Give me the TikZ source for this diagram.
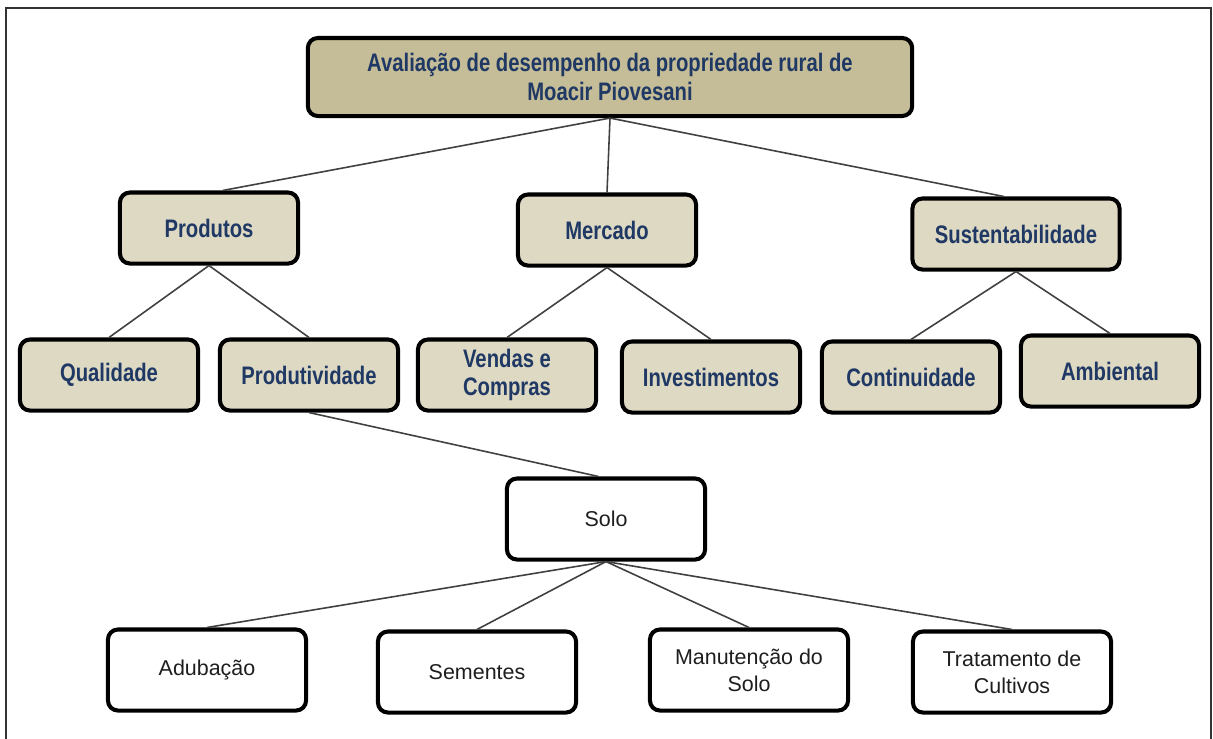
\documentclass[tikz,border=0pt]{standalone}
\usepackage{fontspec}
\setmainfont{Liberation Sans}
\newfontfamily\narrowfont[FakeStretch=0.8]{Liberation Sans}
\begin{document}
\definecolor{headfill}{RGB}{196,189,151}
\definecolor{catfill}{RGB}{221,217,195}
\definecolor{navytext}{RGB}{31,56,100}
\definecolor{leaftext}{RGB}{30,30,30}
\begin{tikzpicture}[x=0.01cm,y=-0.01cm,
  catbox/.style={draw=black, line width=1.15pt, rounded corners=0.1cm,
    fill=catfill, text=navytext, align=center, inner sep=0pt,
    minimum width=1.78cm, minimum height=0.71cm,
    font=\narrowfont\bfseries\fontsize{7.2}{8}\selectfont},
  headbox/.style={catbox, fill=headfill},
  leafbox/.style={draw=black, line width=1.15pt, rounded corners=0.1cm,
    fill=white, text=leaftext, align=center, inner sep=0pt,
    minimum width=1.98cm, minimum height=0.81cm,
    font=\fontsize{6.1}{7.7}\selectfont},
  link/.style={draw=black!75, line width=0.45pt}]
  \useasboundingbox (0,0) rectangle (1213,738);
  % outer frame (its lower edge runs below the page)
  \draw[line width=0.6pt, black!80] (6,760) -- (6,8) -- (1211,8) -- (1211,760);

  % root
  \node[headbox, minimum width=6.04cm, minimum height=0.78cm] (root) at (610,77)
    {Avaliação de desempenho da propriedade rural de\\Moacir Piovesani};

  % first level
  \node[catbox] (prod) at (209,228) {Produtos};
  \node[catbox] (merc) at (607,230) {Mercado};
  \node[catbox, minimum width=2.07cm] (sust) at (1016,234) {Sustentabilidade};

  % second level
  \node[catbox] (qual) at (109,375) {Qualidade};
  \node[catbox] (prdv) at (309,375) {Produtividade};
  \node[catbox] (vend) at (507,375) {Vendas e\\Compras};
  \node[catbox] (inv) at (711,377) {Investimentos};
  \node[catbox] (cont) at (911,377) {Continuidade};
  \node[catbox] (amb) at (1110,371) {Ambiental};

  % soil branch
  \node[leafbox] (solo) at (606,519) {Solo};
  \node[leafbox] (adub) at (207,670) {Adubação};
  \node[leafbox] (seme) at (477,672) {Sementes};
  \node[leafbox] (manu) at (749,670) {Manutenção do\\Solo};
  \node[leafbox] (trat) at (1012,672) {Tratamento de\\Cultivos};

  % connectors
  \draw[link] (root.south) -- (prod.70);
  \draw[link] (root.south) -- (merc.north);
  \draw[link] (root.south) -- (sust.108);
  \draw[link] (prod.south) -- (qual.north);
  \draw[link] (prod.south) -- (prdv.north);
  \draw[link] (merc.south) -- (vend.north);
  \draw[link] (merc.south) -- (inv.north);
  \draw[link] (sust.south) -- (cont.north);
  \draw[link] (sust.south) -- (amb.north);
  \draw[link] (prdv.south) -- (solo.100);
  \draw[link] (solo.south) -- (adub.north);
  \draw[link] (solo.south) -- (seme.north);
  \draw[link] (solo.south) -- (manu.north);
  \draw[link] (solo.south) -- (trat.north);
\end{tikzpicture}
\end{document}
